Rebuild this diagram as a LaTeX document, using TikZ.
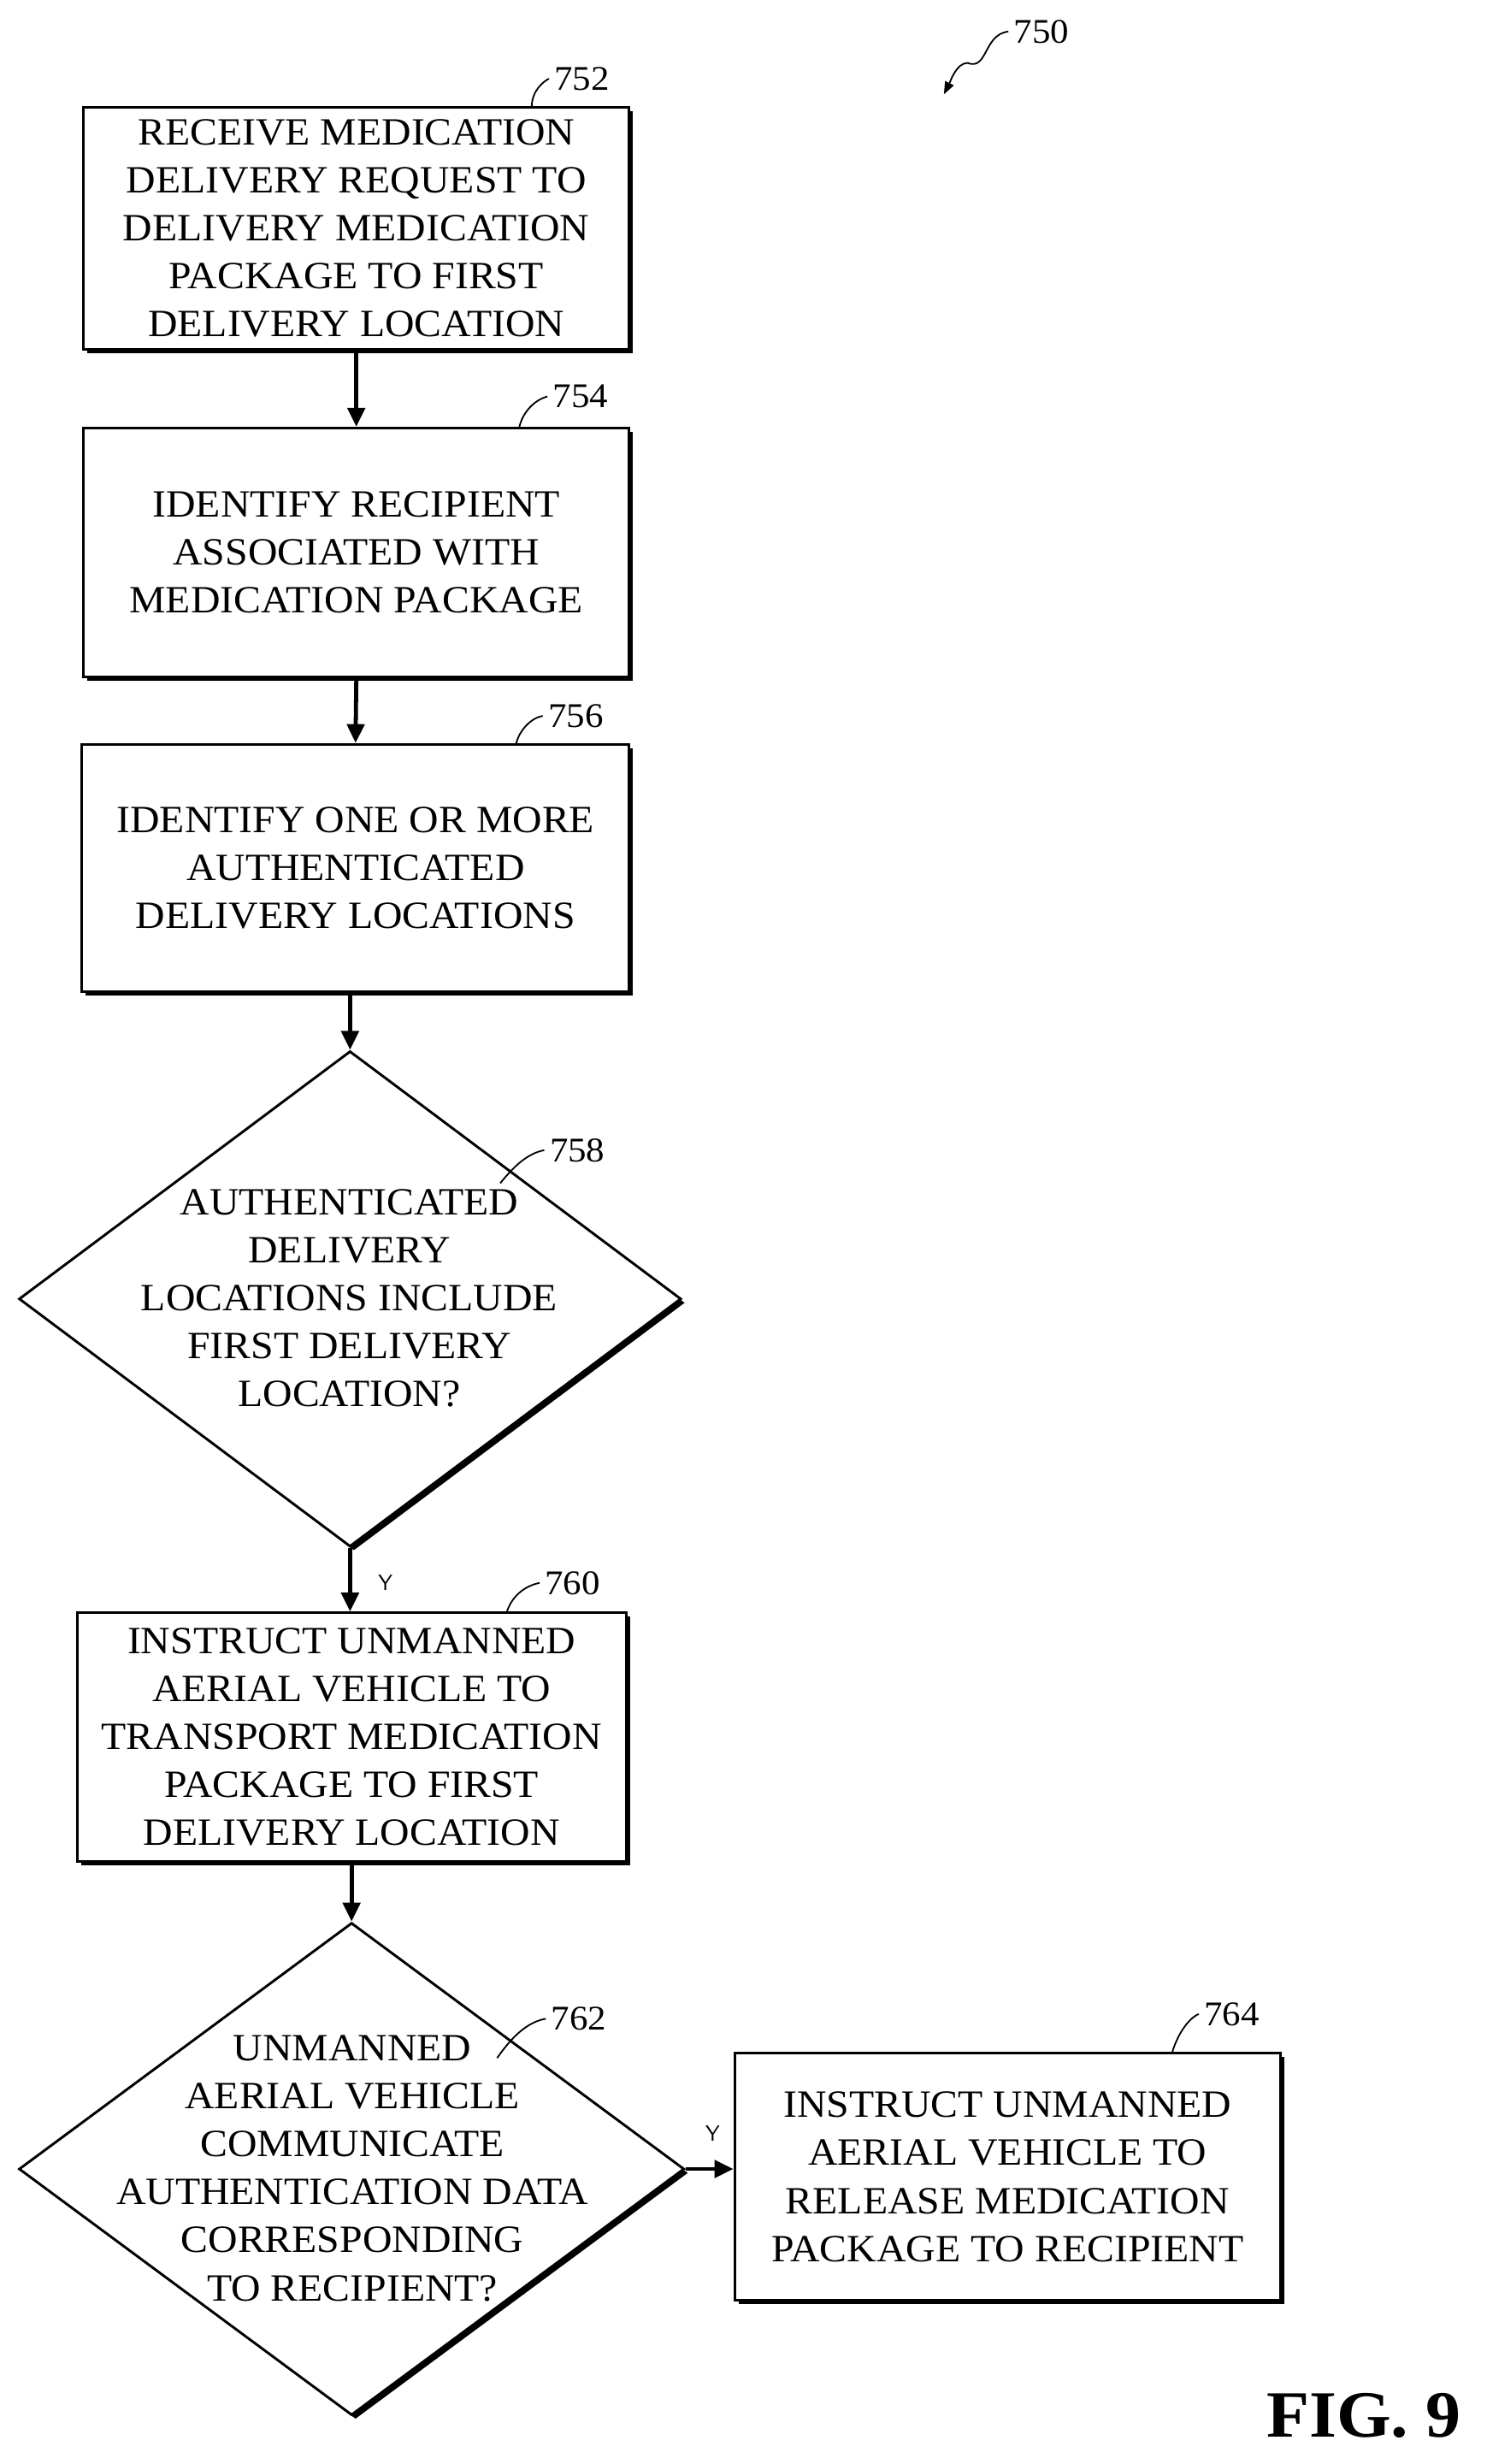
\documentclass[tikz,border=0pt]{standalone}
\usepackage{fontspec}
\setmainfont{Liberation Serif}[FakeStretch=1.06]
\usetikzlibrary{shapes.geometric,shadows,arrows.meta}
\begin{document}
\begin{tikzpicture}[x=1pt,y=-1pt,
  box/.style={draw,line width=1.6pt,fill=white,align=center,inner sep=0,
    font=\fontsize{24.5}{30.5}\selectfont,general shadow={shadow xshift=2.5pt,shadow yshift=-2.5pt,fill=black}},
  dia/.style={draw,diamond,line width=1.6pt,fill=white,inner sep=0,
    general shadow={shadow xshift=2.5pt,shadow yshift=-2.5pt,fill=black}},
  dtext/.style={align=center,font=\fontsize{24.5}{30.5}\selectfont},
  arr/.style={line width=2.6pt,-{Triangle[length=12pt,width=11pt]}},
  num/.style={font=\fontsize{22}{24}\selectfont},
  lead/.style={line width=1pt},
  yl/.style={font=\sffamily\fontsize{14}{16}\selectfont}]
\useasboundingbox (0,0) rectangle (945,1566);
\node[box,minimum width=347pt,minimum height=154pt] (b752) at (226.5,145) {RECEIVE MEDICATION\\DELIVERY REQUEST TO\\DELIVERY MEDICATION\\PACKAGE TO FIRST\\DELIVERY LOCATION};
\node[box,minimum width=347pt,minimum height=158pt] (b754) at (226.5,351) {IDENTIFY RECIPIENT\\ASSOCIATED WITH\\MEDICATION PACKAGE};
\node[box,minimum width=348pt,minimum height=157pt] (b756) at (226,551.5) {IDENTIFY ONE OR MORE\\AUTHENTICATED\\DELIVERY LOCATIONS};
\node[dia,minimum width=421pt,minimum height=315pt] (d758) at (222.5,825.5) {};
\node[dtext] (t758) at (222,825) {AUTHENTICATED\\DELIVERY\\LOCATIONS INCLUDE\\FIRST DELIVERY\\LOCATION?};
\node[box,minimum width=349pt,minimum height=158pt] (b760) at (223.5,1104) {INSTRUCT UNMANNED\\AERIAL VEHICLE TO\\TRANSPORT MEDICATION\\PACKAGE TO FIRST\\DELIVERY LOCATION};
\node[dia,minimum width=423pt,minimum height=313pt] (d762) at (223.5,1378.5) {};
\node[dtext] (t762) at (224,1378) {UNMANNED\\AERIAL VEHICLE\\COMMUNICATE\\AUTHENTICATION DATA\\CORRESPONDING\\TO RECIPIENT?};
\node[box,minimum width=347pt,minimum height=157pt] (b764) at (640.5,1383.5) {INSTRUCT UNMANNED\\AERIAL VEHICLE TO\\RELEASE MEDICATION\\PACKAGE TO RECIPIENT};

\draw[arr] (b752.south) -- (b754.north);
\draw[arr] (b754.south) -- (b756.north);
\draw[arr] (b756.south -| d758.north) -- (d758.north);
\draw[arr] (d758.south) -- (b760.north -| d758.south);
\draw[arr] (b760.south) -- (d762.north);
\draw[arr] (d762.east) -- (b764.west |- d762.east);
\node[yl] (y1) at (245,1006) {Y};
\node[yl] (y2) at (453,1356) {Y};

\node[num] (n752) at (370,50) {752};
\draw[lead] (338,68) .. controls (338,58) and (345,52) .. (n752.west);
\node[num] (n754) at (369,252) {754};
\draw[lead] (330,272) .. controls (332,262) and (340,254) .. (n754.west);
\node[num] (n756) at (366,455) {756};
\draw[lead] (328,473) .. controls (330,464) and (338,456) .. (n756.west);
\node[num] (n758) at (367,731) {758};
\draw[lead] (318,752) .. controls (326,742) and (335,733) .. (n758.west);
\node[num] (n760) at (364,1006) {760};
\draw[lead] (322,1025) .. controls (325,1015) and (333,1008) .. (n760.west);
\node[num] (n762) at (368,1283) {762};
\draw[lead] (316,1308) .. controls (325,1295) and (335,1285) .. (n762.west);
\node[num] (n764) at (783,1280) {764};
\draw[lead] (745,1305) .. controls (748,1294) and (755,1283) .. (n764.west);
\node[num] (n750) at (662,20) {750};
\coordinate (a750) at (600,60);
\draw[lead,-{Triangle[length=8pt,width=6pt]}] (n750.west) .. controls (625,22) and (628,45) .. (615,40) .. controls (608,40) and (604,52) .. (a750);
\node[font=\bfseries\fontsize{42}{44}\selectfont] (fig) at (867,1535) {FIG. 9};
\end{tikzpicture}
\end{document}
